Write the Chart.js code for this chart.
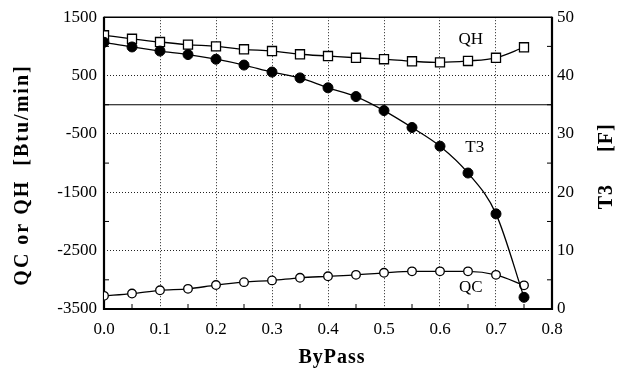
<!DOCTYPE html>
<html>
<head>
<meta charset="utf-8">
<script src="https://cdn.jsdelivr.net/npm/chart.js@4/dist/chart.umd.min.js"></script>
<style>
  html, body { margin: 0; padding: 0; background: #fff; }
</style>
</head>
<body>
<canvas id="chart" width="618" height="370"></canvas>
<script>
// data
const bypass = [0, 0.05, 0.1, 0.15, 0.2, 0.25, 0.3, 0.35, 0.4, 0.45, 0.5, 0.55, 0.6, 0.65, 0.7, 0.75];
const qh = [1190, 1130, 1075, 1030, 1000, 950, 920, 865, 835, 805, 780, 745, 725, 750, 805, 985];
const qc = [-3275, -3235, -3180, -3155, -3090, -3040, -3010, -2965, -2940, -2915, -2880, -2855, -2855, -2855, -2915, -3095];
const t3 = [45.7, 44.9, 44.2, 43.6, 42.8, 41.8, 40.6, 39.6, 37.9, 36.4, 34.0, 31.1, 27.9, 23.3, 16.3, 2.0];

// tick labels
const xTicks = [0, 0.1, 0.2, 0.3, 0.4, 0.5, 0.6, 0.7, 0.8];
const xMinor = [0.05, 0.15, 0.25, 0.35, 0.45, 0.55, 0.65, 0.75];
const leftTicks = [-3500, -2500, -1500, -500, 500, 1500];
const leftMinor = [-3000, -2000, -1000, 0, 1000];
const rightTicks = [0, 10, 20, 30, 40, 50];
const rightMinor = [5, 15, 25, 35, 45];

const serif = "'Liberation Serif', 'Times New Roman', serif";

function pts(ys) {
    return bypass.map((x, i) => ({ x: x, y: ys[i] }));
}

function seg(ctx, x1, y1, x2, y2) {
    ctx.beginPath();
    ctx.moveTo(x1, y1);
    ctx.lineTo(x2, y2);
    ctx.stroke();
}

// frame, zero line, minor ticks, in-plot labels and axis titles
const decor = {
    id: "decor",
    beforeDatasetsDraw(chart) {
        const { ctx, chartArea: a, scales } = chart;
        ctx.save();
        ctx.strokeStyle = "#000";
        ctx.lineWidth = 1.2;
        const y0 = scales.y.getPixelForValue(0);
        seg(ctx, a.left, y0, a.right, y0);

        ctx.lineWidth = 1;
        leftMinor.forEach(v => {
            const y = scales.y.getPixelForValue(v);
            seg(ctx, a.left, y, a.left + 5, y);
        });
        rightMinor.forEach(v => {
            const y = scales.y1.getPixelForValue(v);
            seg(ctx, a.right - 5, y, a.right, y);
        });
        xMinor.forEach(v => {
            const x = scales.x.getPixelForValue(v);
            seg(ctx, x, a.bottom - 5, x, a.bottom);
        });

        ctx.lineWidth = 1.5;
        seg(ctx, a.left, a.top, a.right, a.top);
        ctx.lineWidth = 2.2;
        seg(ctx, a.left, a.top - 0.5, a.left, a.bottom + 1);
        seg(ctx, a.right, a.top - 0.5, a.right, a.bottom + 1);
        seg(ctx, a.left - 1, a.bottom, a.right + 1, a.bottom);
        ctx.restore();
    },
    afterDatasetsDraw(chart) {
        const { ctx, chartArea: a, scales } = chart;
        ctx.save();
        ctx.fillStyle = "#000";
        ctx.textAlign = "center";
        ctx.textBaseline = "middle";
        ctx.font = "17px " + serif;
        ctx.fillText("QH", scales.x.getPixelForValue(0.655), scales.y.getPixelForValue(1110));
        ctx.fillText("T3", scales.x.getPixelForValue(0.662), scales.y1.getPixelForValue(27.7));
        ctx.fillText("QC", scales.x.getPixelForValue(0.655), scales.y.getPixelForValue(-3140));

        // x title
        ctx.font = "bold 20px " + serif;
        ctx.letterSpacing = "1px";
        ctx.fillText("ByPass", (a.left + a.right) / 2 + 4, a.bottom + 49);

        // left title
        ctx.save();
        ctx.translate(23, 175);
        ctx.rotate(-Math.PI / 2);
        ctx.letterSpacing = "2px";
        ctx.fillText("QC or QH  [Btu/min]", 0, 0);
        ctx.restore();

        // right title
        ctx.save();
        ctx.translate(607, 168);
        ctx.rotate(-Math.PI / 2);
        ctx.letterSpacing = "1px";
        ctx.textAlign = "right";
        ctx.fillText("T3", -16, 0);
        ctx.textAlign = "left";
        ctx.fillText("[F]", 16, 0);
        ctx.restore();
        ctx.restore();
    }
};

const gridStyle = {
    color: ctx => (ctx.tick && ctx.tick.value !== undefined) ? "#222" : "transparent",
    lineWidth: 1,
    drawTicks: false
};

new Chart(document.getElementById("chart"), {
    type: "line",
    data: {
        datasets: [
            {
                label: "T3",
                data: pts(t3),
                yAxisID: "y1",
                borderColor: "#000",
                borderWidth: 1.3,
                backgroundColor: "#000",
                pointStyle: "circle",
                pointRadius: 5,
                pointBorderWidth: 1,
                cubicInterpolationMode: "monotone"
            },
            {
                label: "QH",
                data: pts(qh),
                yAxisID: "y",
                borderColor: "#000",
                borderWidth: 1.3,
                backgroundColor: "#fff",
                pointStyle: "rect",
                pointRadius: 6.4,
                pointBorderWidth: 1.3,
                cubicInterpolationMode: "monotone"
            },
            {
                label: "QC",
                data: pts(qc),
                yAxisID: "y",
                borderColor: "#000",
                borderWidth: 1.3,
                backgroundColor: "#fff",
                pointStyle: "circle",
                pointRadius: 4.3,
                pointBorderWidth: 1.3,
                cubicInterpolationMode: "monotone"
            }
        ]
    },
    options: {
        responsive: false,
        animation: false,
        devicePixelRatio: 1,
        layout: { padding: { top: 15, left: 0, right: 0, bottom: 0 } },
        plugins: {
            legend: { display: false },
            tooltip: { enabled: false }
        },
        scales: {
            x: {
                type: "linear",
                min: 0,
                max: 0.8,
                afterBuildTicks: s => { s.ticks = xTicks.map(v => ({ value: v })); },
                afterFit: s => { s.height = 61; },
                ticks: {
                    autoSkip: false,
                    maxRotation: 0,
                    padding: 10,
                    color: "#000",
                    font: { family: serif, size: 17 },
                    callback: v => v.toFixed(1)
                },
                grid: gridStyle,
                border: { display: false, dash: [1, 2] }
            },
            y: {
                position: "left",
                min: -3500,
                max: 1500,
                afterBuildTicks: s => { s.ticks = leftTicks.map(v => ({ value: v })); },
                afterFit: s => { s.width = 104; },
                ticks: {
                    padding: 7,
                    color: "#000",
                    font: { family: serif, size: 17 },
                    callback: v => String(v)
                },
                grid: gridStyle,
                border: { display: false, dash: [1, 2] }
            },
            y1: {
                position: "right",
                min: 0,
                max: 50,
                afterBuildTicks: s => { s.ticks = rightTicks.map(v => ({ value: v })); },
                afterFit: s => { s.width = 66; },
                ticks: {
                    padding: 5,
                    color: "#000",
                    font: { family: serif, size: 17 },
                    callback: v => String(v)
                },
                grid: { display: false, drawTicks: false },
                border: { display: false }
            }
        }
    },
    plugins: [decor]
});
</script>
</body>
</html>
